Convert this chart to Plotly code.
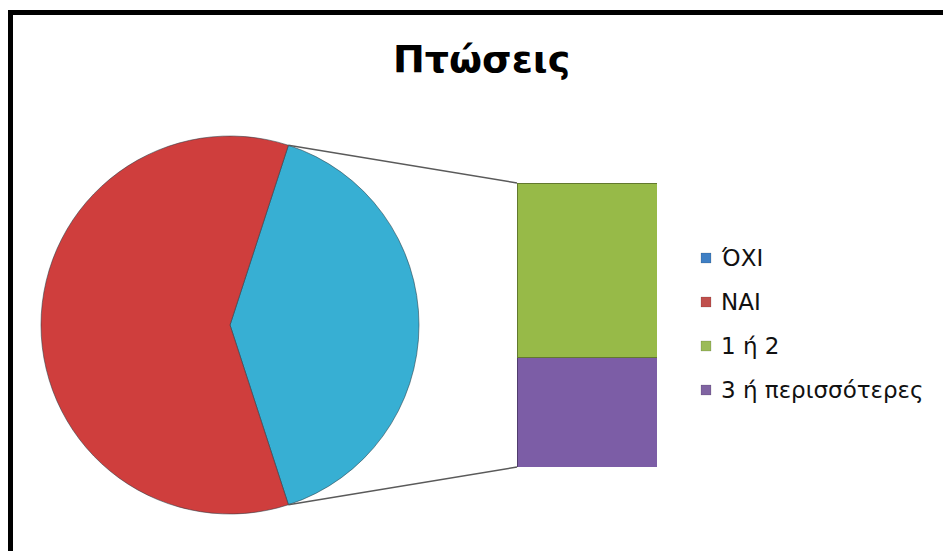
import math
import plotly.graph_objects as go

# Falls: pie with the "yes" share broken out into a stacked bar
title_text = "Πτώσεις"
pie_labels = ["ΌΧΙ", "ΝΑΙ"]
bar_labels = ["1 ή 2", "3 ή περισσότερες"]
bar_values = [16, 10]
other_value = 39

legend_labels = pie_labels + bar_labels

pie_colors = ["#37AFD3", "#CF3E3D"]
bar_colors = ["#97BA48", "#7C5DA6"]
legend_colors = ["#3F7FC4", "#C0504D", "#9BBB59", "#8064A2"]

W, H = 943, 551

# pie geometry (pixels)
cx, cy, r = 230, 325, 189
# bar geometry (pixels)
bx0, bx1, by0, by1 = 517, 657, 183, 467

split_total = sum(bar_values)
pie_values = [split_total, other_value]
frac = split_total / sum(pie_values)
half_angle = 180 * frac

def px(x):
    return x / W

def py(y):
    return 1 - y / H

fig = go.Figure()

fig.add_trace(go.Pie(
    labels=pie_labels,
    values=pie_values,
    sort=False,
    direction="clockwise",
    rotation=90 - half_angle,
    marker=dict(colors=pie_colors, line=dict(color="rgba(40,60,70,0.55)", width=1)),
    textinfo="none",
    hoverinfo="label+value",
    domain=dict(x=[px(cx - r), px(cx + r)], y=[py(cy + r), py(cy - r)]),
    showlegend=False,
))

# stacked bar: bottom segment first
for lab, val, col in zip(bar_labels[::-1], bar_values[::-1], bar_colors[::-1]):
    fig.add_trace(go.Bar(
        x=[0], y=[val], name=lab, width=1,
        marker=dict(color=col, line=dict(color="rgba(0,0,0,0.35)", width=1)),
        xaxis="x", yaxis="y", showlegend=False,
    ))

# connector lines from the split slice edges to the bar corners
a = math.radians(half_angle)
tx, ty = cx + r * math.cos(a), cy - r * math.sin(a)
bxx, byy = cx + r * math.cos(a), cy + r * math.sin(a)
shapes = [
    dict(type="line", xref="paper", yref="paper",
         x0=px(tx), y0=py(ty), x1=px(bx0), y1=py(by0),
         line=dict(color="#5A5A5A", width=1.5)),
    dict(type="line", xref="paper", yref="paper",
         x0=px(bxx), y0=py(byy), x1=px(bx0), y1=py(by1),
         line=dict(color="#5A5A5A", width=1.5)),
    # chart frame
    dict(type="rect", xref="paper", yref="paper",
         x0=px(10.5), y0=py(12.5), x1=px(W + 20), y1=py(H + 20),
         line=dict(color="#000000", width=5), layer="above"),
]

annotations = [
    dict(text=title_text, xref="paper", yref="paper", x=px(482), y=py(59),
         showarrow=False, xanchor="center", yanchor="middle",
         font=dict(family="DejaVu Sans", size=38, color="#000000", weight="bold")),
]
# legend entries
legend_y = [258, 302, 346, 390]
for lab, col, yy in zip(legend_labels, legend_colors, legend_y):
    shapes.append(dict(type="rect", xref="paper", yref="paper",
                       x0=px(701), x1=px(711), y0=py(yy - 5), y1=py(yy + 5),
                       fillcolor=col, line=dict(color="rgba(0,0,0,0.25)", width=0.5)))
    annotations.append(dict(text=lab, xref="paper", yref="paper", x=px(719), y=py(yy),
                            showarrow=False, xanchor="left", yanchor="middle",
                            font=dict(family="DejaVu Sans", size=23, color="#111111")))

fig.update_layout(
    width=W, height=H,
    margin=dict(l=0, r=0, t=0, b=0),
    paper_bgcolor="#FFFFFF", plot_bgcolor="rgba(0,0,0,0)",
    barmode="stack",
    xaxis=dict(domain=[px(bx0), px(bx1)], range=[-0.5, 0.5], visible=False, fixedrange=True),
    yaxis=dict(domain=[py(by1), py(by0)], range=[0, split_total], visible=False, fixedrange=True),
    shapes=shapes,
    annotations=annotations,
)

fig.write_html("out.html")
